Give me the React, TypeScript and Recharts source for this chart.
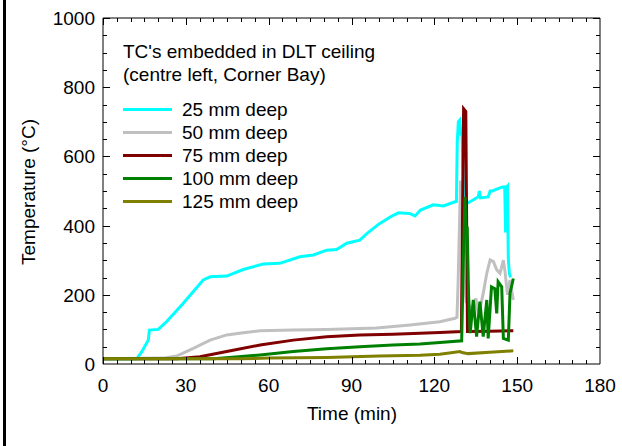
import { ComposedChart, Line, Scatter, XAxis, YAxis, ReferenceLine } from "recharts";

const FONT = "'Liberation Sans', Arial, sans-serif";
const FS = 19;

// TC readings, time in min, temperature in °C
const t25 = [0, 12.2, 14, 16.4, 16.8, 20, 23, 29, 36.3, 38.8, 44.8, 50.8, 58, 64, 71.3, 76.2, 81, 84.6, 88.3, 93, 96, 100, 104, 107, 111, 113, 115, 119.6, 123.3, 127.5, 128, 128.3, 128.7, 129.2, 129.6, 130, 130.4, 130.8, 131.7, 133, 135.9, 136.3, 136.7, 139.5, 140.2, 141, 144.4, 145.5, 145.8, 146.1, 146.5, 146.8, 147.2, 147.6];
const v25 = [15, 15, 35, 69, 98, 100, 122, 175, 243, 252, 254, 273, 289, 291, 310, 315, 329, 331, 349, 358, 380, 405, 425, 437, 435, 428, 445, 460, 457, 469, 470, 640, 700, 705, 660, 677, 560, 470, 464, 469, 483, 500, 480, 483, 500, 500, 511, 512, 380, 510, 514, 300, 260, 250];

const t50 = [0, 21.8, 26.7, 32.7, 38.8, 44.8, 50.8, 56.9, 68.9, 81, 99.1, 111.2, 122, 127.5, 128.2, 128.6, 129.5, 130.2, 130.8, 131.5, 133, 134, 135, 136, 137.7, 139, 140.2, 141.4, 142.6, 143.8, 145, 145.6, 146.5, 147.4, 148.6];
const v50 = [15, 17, 23, 45, 69, 84, 90, 96, 98, 100, 104, 113, 122, 132, 135, 233, 530, 400, 250, 180, 166, 150, 190, 140, 204, 262, 301, 296, 272, 262, 300, 267, 200, 243, 185];

const t75 = [0, 26.7, 35.1, 44.8, 56.9, 68.9, 81, 93, 105, 114.8, 122, 129.8, 130.6, 131.4, 132, 140, 148.6];
const v75 = [15, 15, 21, 36, 55, 69, 79, 84, 86, 89, 91, 94, 738, 730, 94, 95, 96];

const t100 = [0, 40, 48, 56.9, 68.9, 81, 93, 105, 114.8, 122, 129.9, 130.5, 131.1, 131.5, 131.9, 132.4, 133, 134.1, 135.3, 136.5, 137.7, 139, 139.5, 140.7, 141.9, 142.6, 143.1, 144.4, 145, 146.8, 147.4, 148.6];
const v100 = [15, 15, 20, 26, 36, 44, 50, 55, 58, 62, 67, 300, 483, 380, 397, 200, 89, 185, 79, 180, 79, 185, 74, 223, 218, 146, 238, 223, 74, 69, 204, 247];

const t125 = [0, 50, 60, 81, 100, 114.8, 122, 129.3, 130, 132.3, 140, 148.6];
const v125 = [15, 15, 17, 19, 23, 25, 28, 36, 33, 30, 34, 38];

const xTicks = [0, 5, 10, 15, 20, 25, 30, 35, 40, 45, 50, 55, 60, 65, 70, 75, 80, 85, 90, 95, 100, 105, 110, 115, 120, 125, 130, 135, 140, 145, 150, 155, 160, 165, 170, 175, 180];
const xLabels = [0, 30, 60, 90, 120, 150, 180];
const yTicks = [0, 50, 100, 150, 200, 250, 300, 350, 400, 450, 500, 550, 600, 650, 700, 750, 800, 850, 900, 950, 1000];
const yLabels = [0, 200, 400, 600, 800, 1000];

const X_MAX = 180;
const Y_MAX = 1000;

const toRows = (t: number[], v: number[]) => t.map((x, i) => ({ t: x, v: v[i] }));

const SERIES = [
  { name: "25 mm deep", color: "#00FFFF", data: toRows(t25, v25) },
  { name: "50 mm deep", color: "#C0C0C0", data: toRows(t50, v50) },
  { name: "75 mm deep", color: "#800000", data: toRows(t75, v75) },
  { name: "100 mm deep", color: "#008000", data: toRows(t100, v100) },
  { name: "125 mm deep", color: "#808000", data: toRows(t125, v125) },
];

// tick-mark anchors on the four edges of the plot frame
const tickMarks = [
  ...xTicks.map((t) => ({ t, v: 0, side: "b", major: xLabels.includes(t) })),
  ...xTicks.map((t) => ({ t, v: Y_MAX, side: "t", major: xLabels.includes(t) })),
  ...yTicks.map((v) => ({ t: 0, v, side: "l", major: yLabels.includes(v) })),
  ...yTicks.map((v) => ({ t: X_MAX, v, side: "r", major: yLabels.includes(v) })),
];

function TickMark({ cx, cy, payload }: any) {
  const len = payload.major ? 7 : 4;
  const x = Math.round(cx) + 0.5;
  const y = Math.round(cy) + 0.5;
  let d = "";
  if (payload.side === "b") d = `M${x},${cy}V${cy - len}`;
  else if (payload.side === "t") d = `M${x},${cy}V${cy + len}`;
  else if (payload.side === "l") d = `M${cx},${y}H${cx + len}`;
  else d = `M${cx},${y}H${cx - len}`;
  return <path d={d} stroke="#000" strokeWidth={1} fill="none" />;
}

function BottomTick({ x, y, payload }: any) {
  if (!xLabels.includes(payload.value)) return <g />;
  return (
    <text x={x} y={y + 28} textAnchor="middle" fontSize={FS} fontFamily={FONT} fill="#000">
      {payload.value}
    </text>
  );
}

function LeftTick({ x, y, payload }: any) {
  if (!yLabels.includes(payload.value)) return <g />;
  return (
    <text x={x - 8} y={y + 7} textAnchor="end" fontSize={FS} fontFamily={FONT} fill="#000">
      {payload.value}
    </text>
  );
}

function ChartLegend() {
  return (
    <div
      style={{
        position: "absolute",
        left: 123,
        top: 40,
        fontFamily: FONT,
        fontSize: FS,
        lineHeight: "23px",
        color: "#000",
        whiteSpace: "nowrap",
      }}
    >
      <div>TC's embedded in DLT ceiling</div>
      <div>(centre left, Corner Bay)</div>
      <div style={{ marginTop: 12 }}>
        {SERIES.map((s) => (
          <div key={s.name} style={{ display: "flex", alignItems: "center", height: 23 }}>
            <div style={{ width: 49, height: 3, background: s.color, marginRight: 10 }} />
            {s.name}
          </div>
        ))}
      </div>
    </div>
  );
}

const frameProps = { xAxisId: "bottom", yAxisId: "left", stroke: "#000", strokeWidth: 1, ifOverflow: "visible" as const };

export default function App() {
  return (
    <div style={{ position: "absolute", left: 0, top: 0, width: 622, height: 446, background: "#fff" }}>
      <div style={{ position: "absolute", left: 3, top: 0, width: 3, height: 446, background: "#000" }} />
      <ComposedChart width={622} height={446} margin={{ top: 18, right: 22, bottom: 0, left: 0 }}>
        <XAxis
          xAxisId="bottom"
          type="number"
          dataKey="t"
          domain={[0, X_MAX]}
          allowDataOverflow
          ticks={xTicks}
          interval={0}
          tickLine={false}
          tickSize={0}
          tickMargin={0}
          tick={BottomTick}
          height={82}
          axisLine={{ stroke: "#000" }}
          label={() => (
            <text x={352} y={420} textAnchor="middle" fontSize={FS} fontFamily={FONT} fill="#000">
              Time (min)
            </text>
          )}
        />
        <YAxis
          yAxisId="left"
          type="number"
          dataKey="v"
          domain={[0, Y_MAX]}
          allowDataOverflow
          ticks={yTicks}
          interval={0}
          tickLine={false}
          tickSize={0}
          tickMargin={0}
          tick={LeftTick}
          width={103}
          axisLine={{ stroke: "#000" }}
          label={() => (
            <text
              transform="translate(35, 192) rotate(-90)"
              textAnchor="middle"
              fontSize={FS}
              fontFamily={FONT}
              fill="#000"
            >
              Temperature (°C)
            </text>
          )}
        />
        {/* frame: top and right edges */}
        <ReferenceLine {...frameProps} y={Y_MAX} />
        <ReferenceLine {...frameProps} x={X_MAX} />
        {SERIES.map((s) => (
          <Line
            key={s.name}
            xAxisId="bottom"
            yAxisId="left"
            data={s.data}
            dataKey="v"
            type="linear"
            stroke={s.color}
            strokeWidth={3}
            dot={false}
            activeDot={false}
            isAnimationActive={false}
          />
        ))}
        <Scatter
          xAxisId="bottom"
          yAxisId="left"
          data={tickMarks}
          dataKey="v"
          shape={TickMark}
          isAnimationActive={false}
        />
      </ComposedChart>
      <ChartLegend />
    </div>
  );
}
